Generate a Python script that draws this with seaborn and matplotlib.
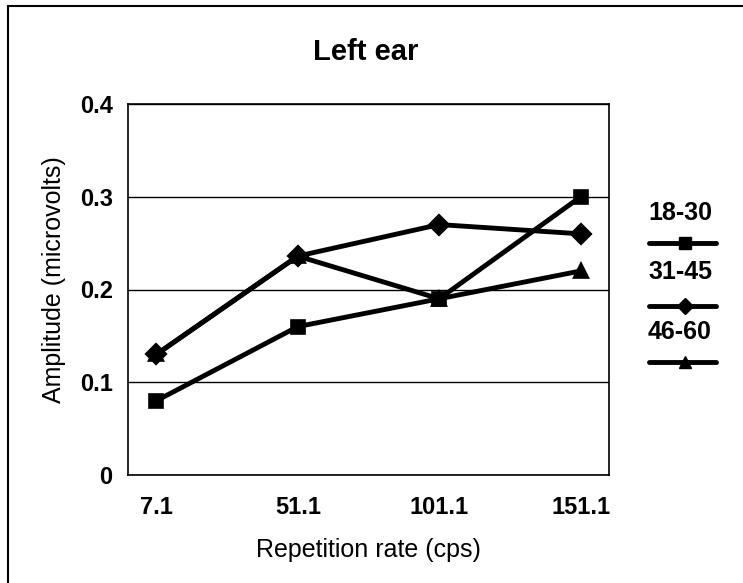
import pandas as pd
import seaborn as sns
import matplotlib.pyplot as plt
from matplotlib.lines import Line2D

# data
rates = ["7.1", "51.1", "101.1", "151.1"]
groups = ["18-30", "31-45", "46-60"]
amp_18_30 = [0.08, 0.16, 0.19, 0.30]
amp_31_45 = [0.13, 0.236, 0.27, 0.26]
amp_46_60 = [0.13, 0.236, 0.19, 0.22]
markers = ["s", "D", "^"]

rows = []
for g, vals in zip(groups, [amp_18_30, amp_31_45, amp_46_60]):
    for r, v in zip(rates, vals):
        rows.append({"rate": r, "amp": v, "group": g})
df = pd.DataFrame(rows)

sns.set_theme(style="white")
plt.rcParams['font.family'] = ['Liberation Sans', 'DejaVu Sans']
plt.rcParams['text.color'] = 'black'
plt.rcParams['axes.labelcolor'] = 'black'
plt.rcParams['xtick.color'] = 'black'
plt.rcParams['ytick.color'] = 'black'

W, H = 743, 583
fig = plt.figure(figsize=(W / 100, H / 100), dpi=100)
ax = fig.add_axes([128 / W, 1 - 475 / H, (609 - 128) / W, (475 - 104) / H])

sns.pointplot(data=df, x="rate", y="amp", hue="group", order=rates,
              hue_order=groups, markers=markers, linestyles="-",
              palette=["black"] * 3, errorbar=None, ax=ax,
              markersize=9, linewidth=3.5, legend=False)

ax.set_xlim(-0.2, 3.2)
ax.set_ylim(0, 0.4)
ax.set_yticks([0, 0.1, 0.2, 0.3, 0.4])
ax.set_yticklabels(["0", "0.1", "0.2", "0.3", "0.4"])
ax.grid(axis="y", color="black", linewidth=1)
ax.set_axisbelow(True)
for s in ax.spines.values():
    s.set_color("black")
    s.set_linewidth(1.2)
ax.tick_params(length=0, labelsize=17)
ax.tick_params(axis="x", pad=15)
ax.tick_params(axis="y", pad=11)
for lab in ax.get_xticklabels() + ax.get_yticklabels():
    lab.set_fontweight("bold")
ax.set_xlabel("Repetition rate (cps)", fontsize=18)
ax.set_ylabel("Amplitude (microvolts)", fontsize=18)
ax.xaxis.set_label_coords(0.5, -0.17)
ax.yaxis.set_label_coords(-0.128, 0.526)
fig.text(366 / W, 1 - 52 / H, "Left ear", ha="center", va="center",
         fontsize=21, fontweight="bold")

# legend: label above each line sample
label_y = [213, 272, 332]
handle_y = [243, 306, 362]
for g, m, ly, hy in zip(groups, markers, label_y, handle_y):
    fig.text(680 / W, 1 - ly / H, g, ha="center", va="center",
             fontsize=18, fontweight="bold")
    yy = 1 - hy / H
    fig.add_artist(Line2D([649 / W, 716 / W], [yy, yy], color="black",
                          linewidth=3.5, transform=fig.transFigure))
    fig.add_artist(Line2D([685 / W], [yy], marker=m, markersize=8,
                          color="black", transform=fig.transFigure))

# scanned frame around the chart (left and top edges)
fig.add_artist(Line2D([8 / W, 8 / W], [0, 1 - 6 / H], color="black",
                      linewidth=1.5, transform=fig.transFigure))
fig.add_artist(Line2D([8 / W, 1], [1 - 6 / H, 1 - 6 / H], color="black",
                      linewidth=1.5, transform=fig.transFigure))

fig.savefig("out.png", dpi=100)
